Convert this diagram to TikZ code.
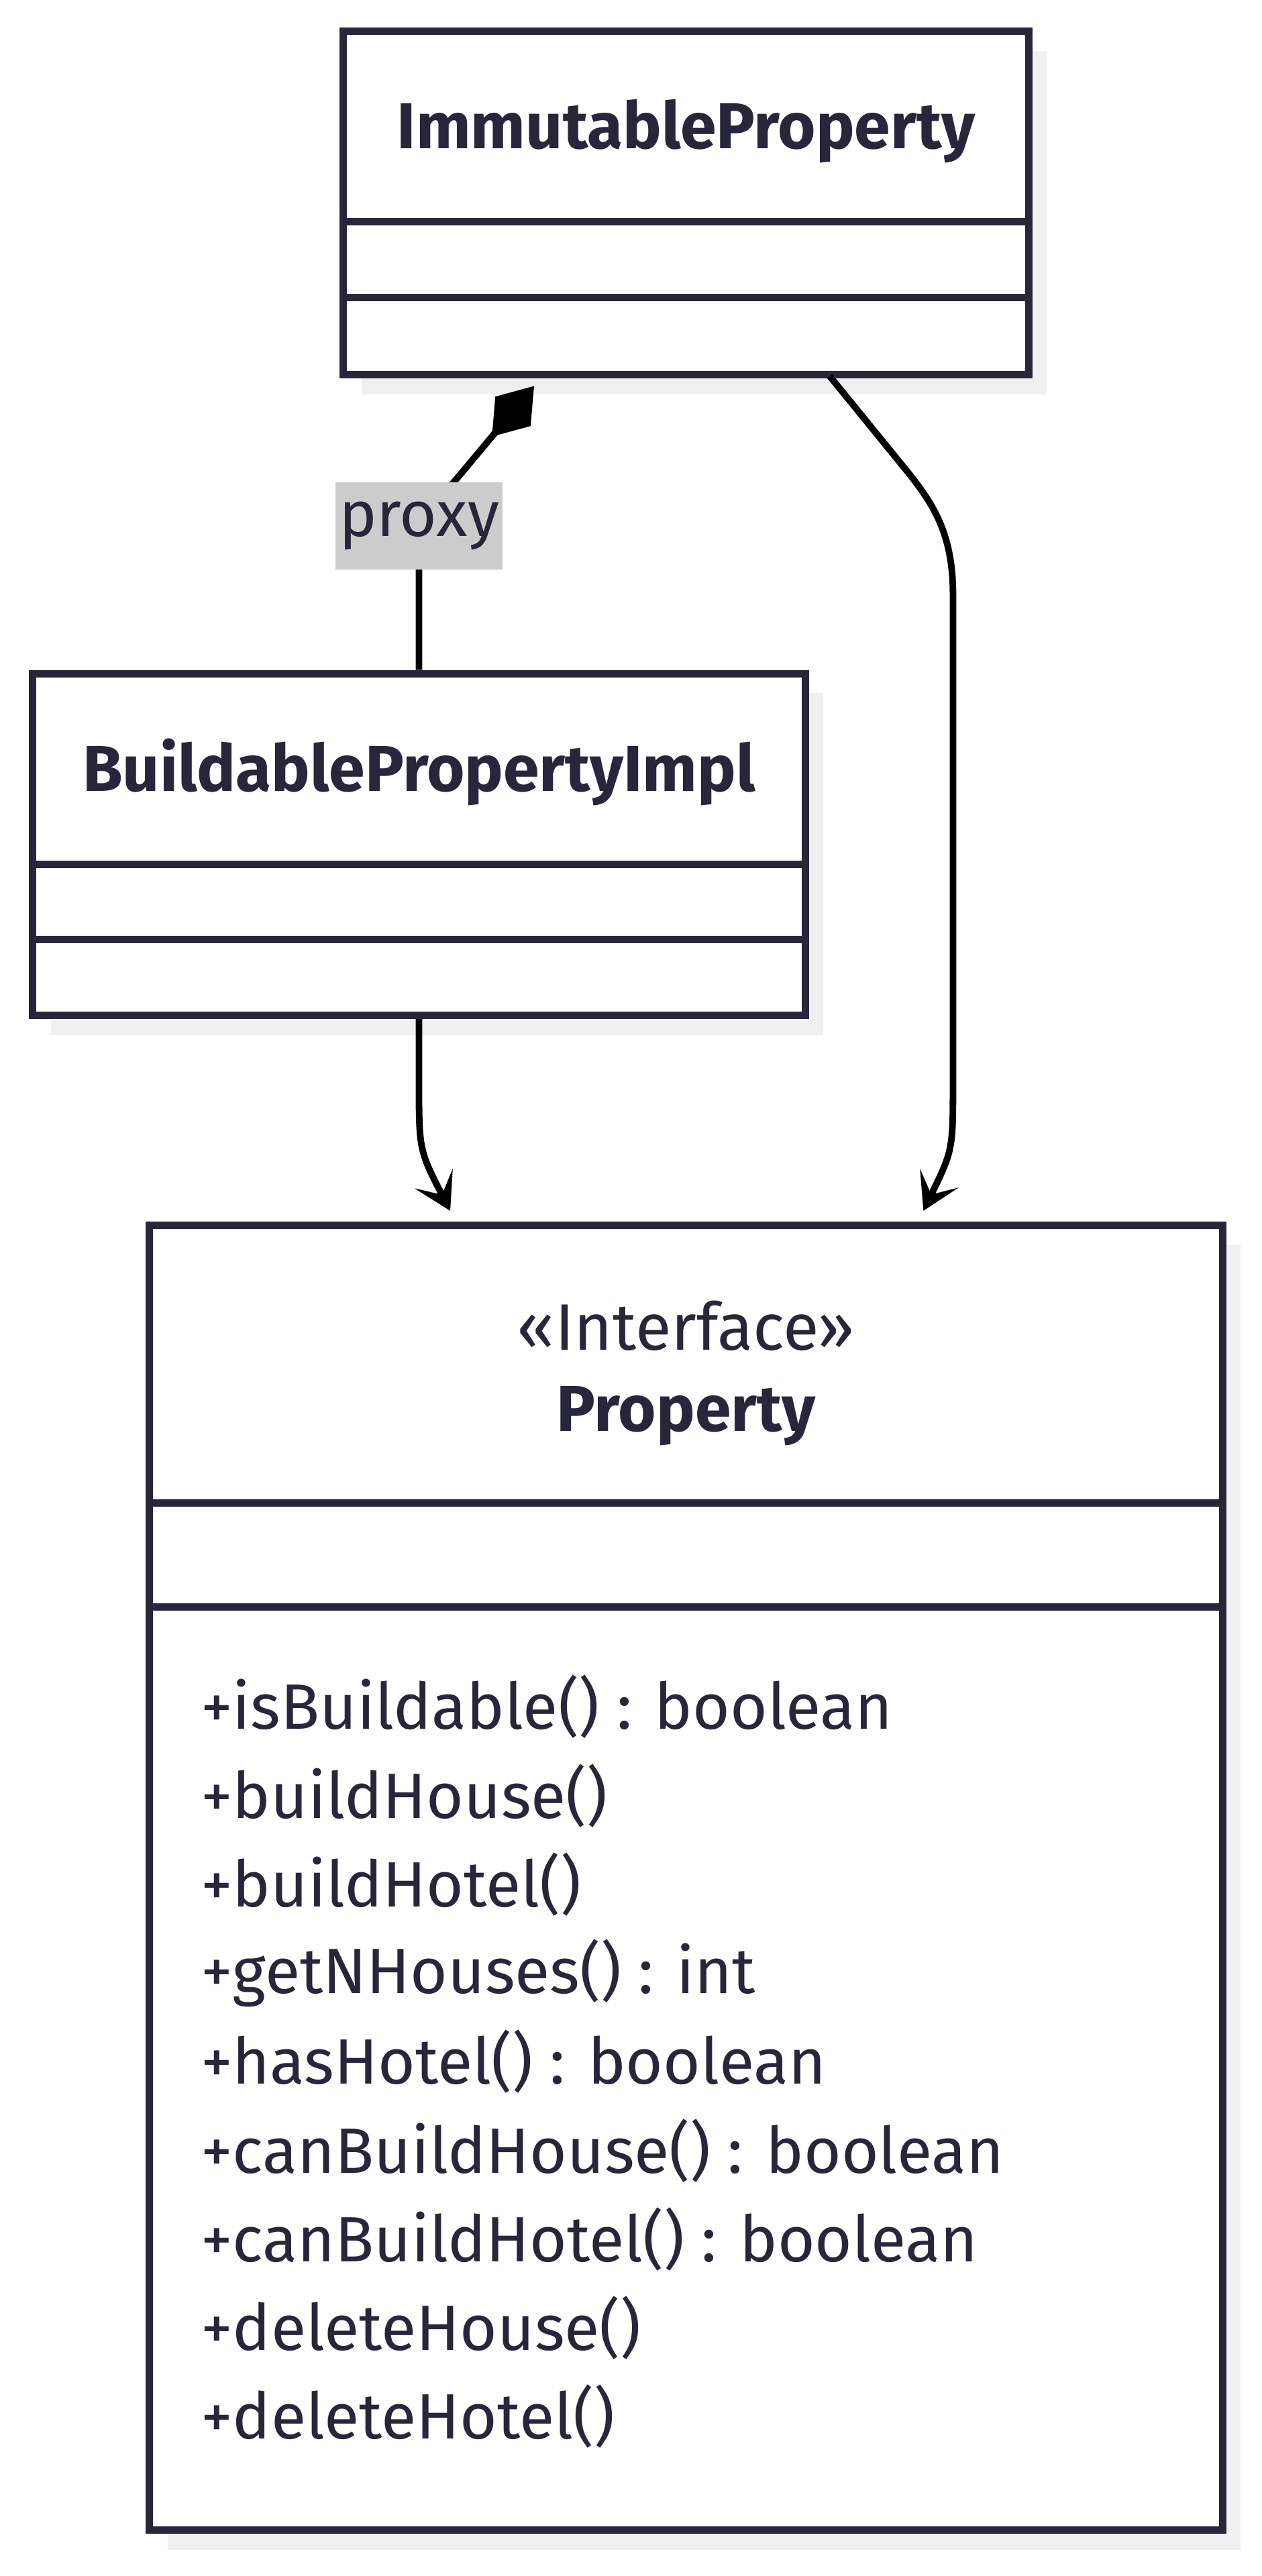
\documentclass[tikz,border=0pt]{standalone}
\usepackage{fontspec}
\setmainfont{Fira Sans}
\usetikzlibrary{arrows.meta,shadows,calc}
\definecolor{umlink}{RGB}{39,38,59}
\definecolor{umlshadow}{RGB}{240,240,240}
\definecolor{proxygray}{RGB}{204,204,204}

\begin{document}
\begin{tikzpicture}[x=1pt, y=-1pt, line join=miter,
    classbox/.style={draw=umlink, line width=4.5pt, fill=white, inner sep=0pt,
      general shadow={fill=umlshadow, shadow xshift=11pt, shadow yshift=-12pt}},
    divider/.style={draw=umlink, line width=4.5pt},
    classname/.style={text=umlink, font=\fontsize{39.5}{44}\selectfont\bfseries},
    member/.style={text=umlink, font=\fontsize{39}{44}\selectfont, anchor=west, inner sep=0pt},
    link/.style={draw=black, line width=4pt},
    vee/.style={-{Stealth[length=22pt,width=26pt,inset=11pt]}}]
  \useasboundingbox (0,0) rectangle (768,1568);

  % class boxes
  \node[classbox, minimum width=417pt, minimum height=209pt] (immut) at (417.5,123.5) {};
  \node[classbox, minimum width=470pt, minimum height=208pt] (buildable) at (255,514) {};
  \node[classbox, minimum width=653pt, minimum height=794pt] (property) at (417.5,1143) {};

  % compartments
  \draw[divider] (immut.west |- 0,135) -- (immut.east |- 0,135);
  \draw[divider] (immut.west |- 0,181) -- (immut.east |- 0,181);
  \draw[divider] (buildable.west |- 0,526) -- (buildable.east |- 0,526);
  \draw[divider] (buildable.west |- 0,572) -- (buildable.east |- 0,572);
  \draw[divider] (property.west |- 0,915) -- (property.east |- 0,915);
  \draw[divider] (property.west |- 0,978) -- (property.east |- 0,978);

  % names
  \node[classname] (immutname) at (417.5,80) {ImmutableProperty};
  \node[classname] (buildname) at (255,470) {BuildablePropertyImpl};
  \node[text=umlink, font=\fontsize{40}{44}\selectfont] (stereo) at (417.5,807) {«Interface»};
  \node[classname] (propname) at (417.5,862) {Property};

  % methods
  \foreach \m [count=\i from 0] in {+isBuildable() : boolean, +buildHouse(), +buildHotel(),
      +getNHouses() : int, +hasHotel() : boolean, +canBuildHouse() : boolean,
      +canBuildHotel() : boolean, +deleteHouse(), +deleteHotel()}
    \node[member] (m\i) at (122,1039+54*\i) {\m};

  % connectors
  \coordinate (diamtip) at (325,235);
  \coordinate (immutout) at (505,229);
  \draw[link, {Diamond[length=40pt,width=28pt]}-] (diamtip) -- (280,289)
    .. controls (255,318) .. (255,355) -- (buildable.north);
  \node[fill=proxygray, text=umlink, font=\fontsize{39}{44}\selectfont,
    minimum height=53pt, inner xsep=2pt, inner ysep=0pt] (proxy) at (255,320) {proxy};

  \draw[link, vee] (buildable.south) -- (255,658) .. controls (255,700) .. (274,737);
  \draw[link, vee] (immutout) -- (553,288) .. controls (568,307) and (580,325) .. (580,362)
    -- (580,658) .. controls (580,700) .. (562,737);
\end{tikzpicture}
\end{document}
